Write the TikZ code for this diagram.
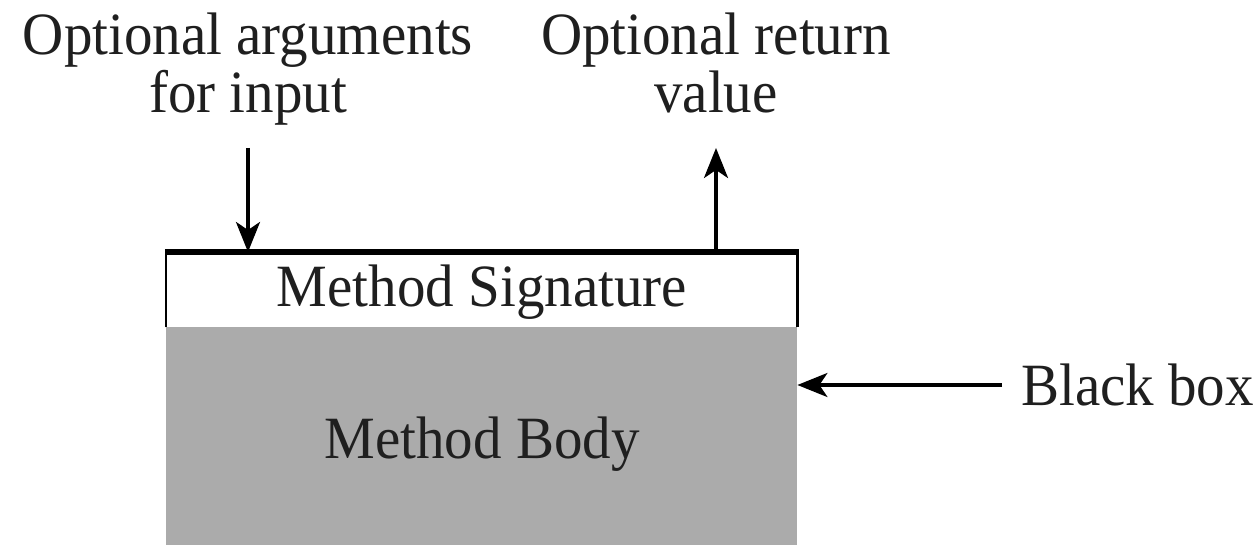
\documentclass[tikz,border=0pt]{standalone}
\usepackage{fontspec}
\setmainfont{Liberation Serif}
\usetikzlibrary{arrows.meta}
\begin{document}
\begin{tikzpicture}[x=1pt,y=-1pt,
  lbl/.style={inner sep=0pt,font=\fontsize{60}{60}\selectfont,text=black!88,xscale=0.95,transform shape},
  arr/.style={line width=3.5pt,-{Stealth[length=30pt,width=24pt,inset=8pt]}},
  sigbox/.style={draw=none,fill=white,inner sep=0pt},
  bodybox/.style={draw=none,fill=black!33,inner sep=0pt}]
\useasboundingbox[fill=white] (0,0) rectangle (1258,545);
% boxes
\node[bodybox,minimum width=631pt,minimum height=218pt,anchor=north west] (body) at (166,327) {};
\node[sigbox,minimum width=631pt,minimum height=75pt,anchor=north west] (sig) at (166,252) {};
\draw[line width=2.5pt] (sig.south west) -- (sig.north west);
\draw[line width=2.5pt] (sig.south east) -- (sig.north east);
\draw[line width=5.5pt] ([xshift=-1.2pt]sig.north west) -- ([xshift=1.2pt]sig.north east);
% texts
\node[lbl,anchor=base] (sigt) at (482,307) {Method Signature};
\node[lbl,anchor=base] (bodyt) at (482,458) {Method Body};
\node[lbl,anchor=base] (in1) at (248,55) {Optional arguments};
\node[lbl,anchor=base] (in2) at (248,113) {for input};
\node[lbl,anchor=base] (out1) at (716,55) {Optional return};
\node[lbl,anchor=base] (out2) at (716,113) {value};
\node[lbl,anchor=base west] (bb) at (1021,405) {Black box};
% arrows
\coordinate (inTop) at (248,148);
\coordinate (outTop) at (716,148);
\coordinate (bbStart) at (1002,385);
\draw[arr] (inTop) -- (inTop |- sig.north);
\draw[arr] (outTop |- sig.north) -- (outTop);
\draw[arr] (bbStart) -- (bbStart -| body.east);
\end{tikzpicture}
\end{document}
